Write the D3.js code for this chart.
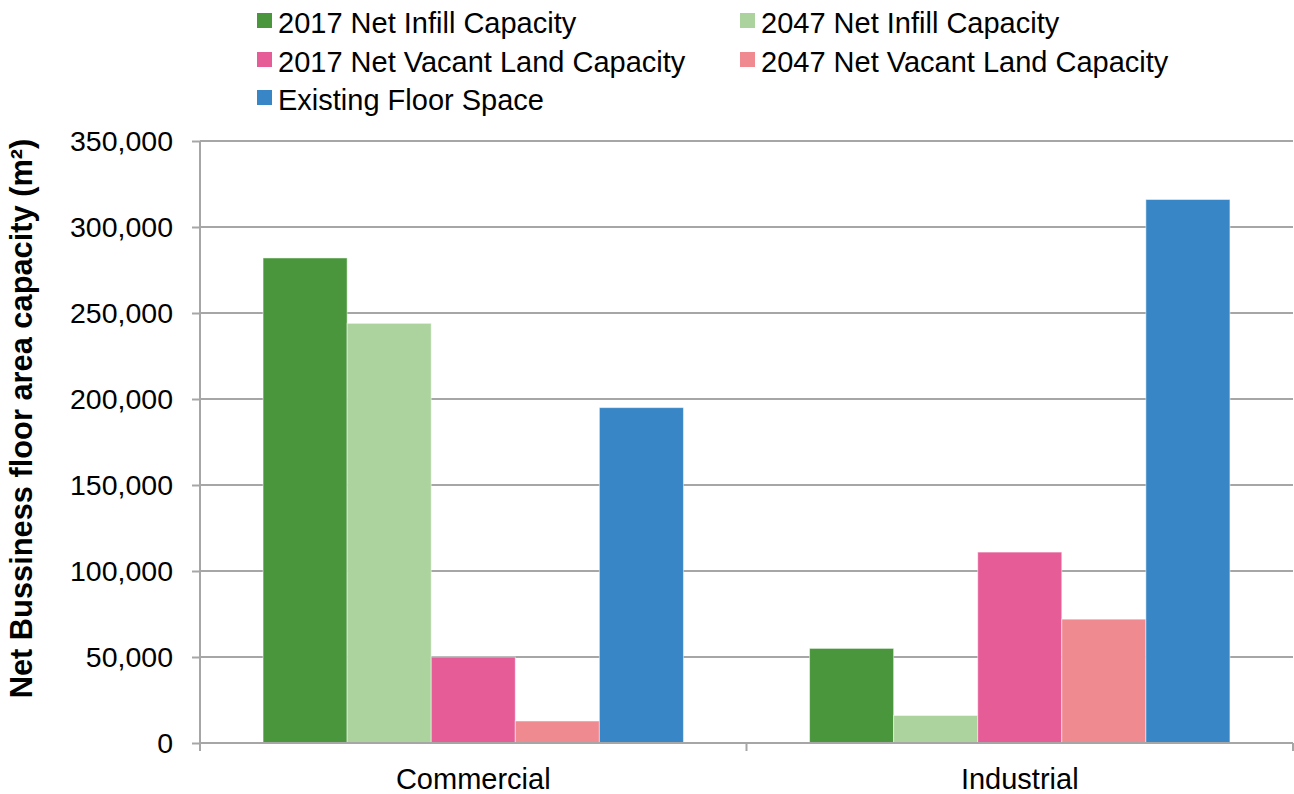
<!DOCTYPE html>
<html>
<head>
<meta charset="utf-8">
<script src="https://cdn.jsdelivr.net/npm/d3@7"></script>
<style>
  html, body { margin: 0; padding: 0; background: #fff; }
  svg { display: block; font-family: "Liberation Sans", Arial, sans-serif; }
</style>
</head>
<body>
<svg id="chart" width="1294" height="794"></svg>
<script>
const categories = ["Commercial", "Industrial"];
const seriesNames = [
  "2017 Net Infill Capacity",
  "2047 Net Infill Capacity",
  "2017 Net Vacant Land Capacity",
  "2047 Net Vacant Land Capacity",
  "Existing Floor Space"
];
const seriesColors = ["#4A963C", "#ACD39D", "#E65C97", "#EF8A91", "#3886C5"];
const infill2017 = [282000, 55000];
const infill2047 = [244000, 16000];
const vacant2017 = [50000, 111000];
const vacant2047 = [12800, 72000];
const existing = [195000, 316000];
const yTicks = [0, 50000, 100000, 150000, 200000, 250000, 300000, 350000];
const yTitle = "Net Bussiness floor area capacity (m²)";

const seriesValues = [infill2017, infill2047, vacant2017, vacant2047, existing];

const svg = d3.select("#chart");
const pLeft = 200, pRight = 1293, pTop = 141, pBottom = 743;

const y = d3.scaleLinear().domain([0, 350000]).range([pBottom, pTop]);
const x0 = d3.scaleBand().domain(categories).range([pLeft, pRight]).padding(0);
const x1 = d3.scaleBand().domain(seriesNames).range([0, x0.bandwidth()])
  .paddingInner(0).paddingOuter(0.75);

const grey = "#A6A6A6";

// gridlines
svg.append("g").selectAll("line").data(yTicks.filter(d => d > 0)).join("line")
  .attr("x1", pLeft).attr("x2", pRight)
  .attr("y1", d => y(d)).attr("y2", d => y(d))
  .attr("stroke", grey).attr("stroke-width", 2);

// bars
const data = [];
categories.forEach((c, ci) => seriesNames.forEach((s, si) => {
  data.push({ c, s, v: seriesValues[si][ci], color: seriesColors[si] });
}));
svg.append("g").selectAll("rect").data(data).join("rect")
  .attr("x", d => x0(d.c) + x1(d.s))
  .attr("width", x1.bandwidth())
  .attr("y", d => y(d.v))
  .attr("height", d => pBottom - y(d.v))
  .attr("fill", d => d.color)
  .attr("stroke", "rgba(255,255,255,0.5)")
  .attr("stroke-width", 1);

// y axis
const yAxis = d3.axisLeft(y).tickValues(yTicks).tickFormat(d3.format(",")).tickSize(8).tickPadding(19);
const ga = svg.append("g").attr("transform", `translate(${pLeft},0)`).call(yAxis);
ga.select(".domain").remove();
ga.selectAll(".tick line").attr("stroke", grey).attr("stroke-width", 2);
ga.selectAll(".tick text").attr("fill", "#000").style("font-size", "28.5px")
  .style("font-family", "'Liberation Sans', Arial, sans-serif");
svg.append("line").attr("x1", pLeft).attr("x2", pLeft).attr("y1", pTop).attr("y2", pBottom + 8)
  .attr("stroke", grey).attr("stroke-width", 2);

// x axis
svg.append("line").attr("x1", pLeft).attr("x2", pRight).attr("y1", pBottom).attr("y2", pBottom)
  .attr("stroke", grey).attr("stroke-width", 2);
const bounds = [pLeft, ...categories.slice(1).map(c => x0(c)), pRight];
svg.append("g").selectAll("line").data(bounds).join("line")
  .attr("x1", d => d).attr("x2", d => d).attr("y1", pBottom).attr("y2", pBottom + 8)
  .attr("stroke", grey).attr("stroke-width", 2);
svg.append("g").selectAll("text").data(categories).join("text")
  .attr("x", d => x0(d) + x0.bandwidth() / 2).attr("y", 789)
  .attr("text-anchor", "middle").style("font-size", "29px").attr("fill", "#000")
  .text(d => d);

// y title
svg.append("text")
  .attr("transform", `translate(32,${(140 + 697) / 2}) rotate(-90)`)
  .attr("text-anchor", "middle").style("font-size", "30.8px").style("font-weight", "bold")
  .attr("fill", "#000").text(yTitle);

// legend
const legCols = [257, 740];
const legRows = [33, 72, 110];
const lg = svg.append("g").selectAll("g").data(seriesNames).join("g")
  .attr("transform", (d, i) => `translate(${legCols[i % 2]},${legRows[Math.floor(i / 2)]})`);
lg.append("rect").attr("x", 0).attr("y", -20).attr("width", 15).attr("height", 15)
  .attr("fill", (d, i) => seriesColors[i]);
lg.append("text").attr("x", 21).attr("y", 0).style("font-size", "29px").attr("fill", "#000")
  .text(d => d);
</script>
</body>
</html>
